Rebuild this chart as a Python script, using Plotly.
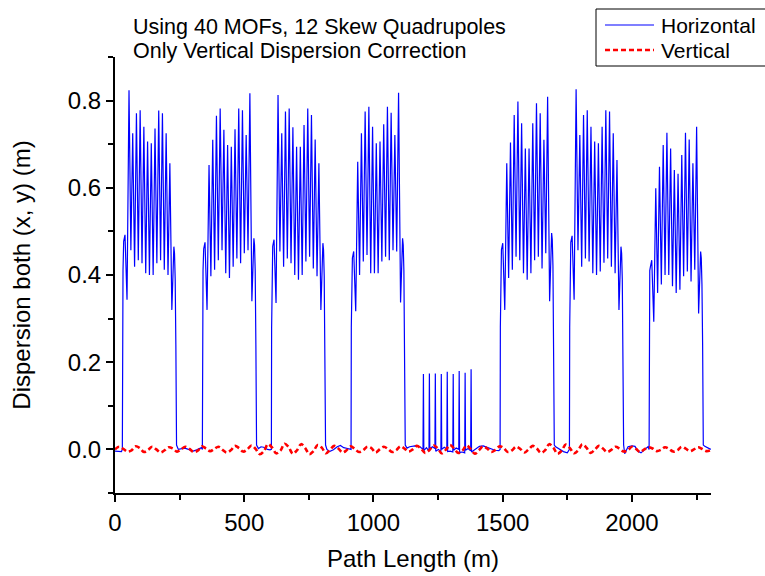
import plotly.graph_objects as go

# ---------------- data ----------------
CELL = 14.37  # m, spacing between successive horizontal-dispersion peaks in an arc

# position (m) of the first peak of each arc
ARC_PEAK1_S = [54.2, 363.8, 630.8, 939.1, 1515.8, 1784.1, 2092.3]

ARC_PEAKS = [
    [0.824, 0.725, 0.771, 0.778, 0.740, 0.706, 0.702, 0.736, 0.777, 0.771, 0.725, 0.656],
    [0.652, 0.710, 0.765, 0.782, 0.733, 0.698, 0.694, 0.734, 0.782, 0.778, 0.721, 0.817],
    [0.813, 0.725, 0.775, 0.782, 0.739, 0.694, 0.694, 0.744, 0.782, 0.767, 0.711, 0.656],
    [0.660, 0.725, 0.775, 0.786, 0.740, 0.702, 0.706, 0.746, 0.786, 0.772, 0.721, 0.818],
    [0.656, 0.704, 0.767, 0.798, 0.748, 0.690, 0.690, 0.748, 0.794, 0.771, 0.710, 0.809],
    [0.826, 0.721, 0.767, 0.778, 0.740, 0.706, 0.702, 0.740, 0.778, 0.775, 0.725, 0.664],
    [0.599, 0.648, 0.698, 0.726, 0.690, 0.641, 0.632, 0.675, 0.726, 0.711, 0.656, 0.740],
]
ARC_TROUGHS = [
    [0.457, 0.419, 0.434, 0.427, 0.404, 0.400, 0.400, 0.427, 0.434, 0.412, 0.400],
    [0.397, 0.412, 0.434, 0.457, 0.404, 0.393, 0.419, 0.438, 0.427, 0.450, 0.457],
    [0.454, 0.419, 0.438, 0.427, 0.400, 0.389, 0.400, 0.431, 0.442, 0.415, 0.397],
    [0.400, 0.431, 0.446, 0.404, 0.404, 0.404, 0.431, 0.442, 0.434, 0.457, 0.454],
    [0.393, 0.412, 0.442, 0.434, 0.404, 0.389, 0.404, 0.434, 0.442, 0.415, 0.450],
    [0.457, 0.419, 0.438, 0.431, 0.404, 0.400, 0.408, 0.428, 0.438, 0.419, 0.404],
    [0.359, 0.378, 0.400, 0.400, 0.374, 0.359, 0.366, 0.397, 0.408, 0.385, 0.412],
]
ARC_HUMP_IN = [0.492, 0.475, 0.481, 0.454, 0.473, 0.490, 0.434]
ARC_DIP_IN = [0.343, 0.320, 0.336, 0.317, 0.320, 0.343, 0.293]
ARC_DIP_OUT = [0.320, 0.340, 0.320, 0.337, 0.340, 0.320, 0.312]
ARC_HUMP_OUT = [0.465, 0.484, 0.473, 0.484, 0.496, 0.465, 0.454]

# small spikes in the middle straight section
SPIKE_S = [1193.3, 1216.4, 1239.4, 1262.5, 1285.5, 1308.6, 1331.7, 1354.7, 1377.8]
SPIKE_D = [0.173, 0.174, 0.174, 0.173, 0.178, 0.173, 0.180, 0.176, 0.184]
SPIKE_BASE_L = [0.000, -0.004, 0.002, -0.005, 0.001, -0.006, 0.000, -0.008, -0.003]
SPIKE_BASE_R = [-0.003, 0.001, -0.004, 0.000, -0.005, -0.002, -0.007, -0.002, -0.006]

# horizontal dispersion in the straight sections (between arcs)
STRAIGHT_S = [0, 15, 25,
              245, 270, 290, 303, 316, 335,
              555, 565, 575, 590, 600,
              820, 830, 845, 860, 872, 885, 900, 908,
              1130, 1140, 1160, 1180,
              1205, 1228, 1251, 1274, 1297, 1320, 1343, 1366,
              1395, 1410, 1425, 1440, 1455, 1470, 1485,
              1705, 1720, 1735, 1750,
              1972, 1985, 2000, 2012, 2022, 2035, 2050, 2062,
              2282, 2295, 2305]
STRAIGHT_D = [-0.004, -0.004, -0.005,
              0.000, 0.003, -0.001, -0.004, -0.001, 0.004,
              0.002, 0.006, 0.005, 0.000, -0.001,
              0.000, -0.005, -0.001, 0.006, 0.009, 0.004, 0.002, 0.000,
              0.003, 0.006, 0.008, 0.006,
              0.004, 0.006, 0.000, 0.005, -0.004, 0.003, -0.006, 0.002,
              0.000, 0.007, 0.008, 0.005, 0.002, -0.002, -0.003,
              0.006, 0.000, -0.005, -0.008,
              -0.010, 0.006, 0.008, 0.007, -0.004, -0.008, 0.000, 0.006,
              0.007, 0.003, 0.000]

# vertical dispersion, sampled every 16 m from 0 m
VERT_STEP = 16
VERT_D = [
    0.000, 0.006, 0.001, -0.005, -0.002, 0.007, 0.003, -0.006, -0.001, 0.006, 0.000, -0.007,
    -0.002, 0.005, 0.002, -0.005, 0.000, 0.006, 0.001, -0.006, -0.003, 0.007, 0.002, -0.004,
    0.001, 0.006, -0.001, -0.007, -0.002, 0.008, 0.003, -0.005, 0.000, 0.009, 0.001, -0.011,
    -0.004, 0.012, 0.004, -0.009, -0.003, 0.013, 0.005, -0.010, -0.002, 0.012, 0.003, -0.011,
    -0.004, 0.010, 0.004, -0.009,
    -0.001, 0.008, 0.002, -0.007, -0.002, 0.007, 0.001, -0.006, -0.002, 0.006, 0.003, -0.007,
    0.000, 0.006, 0.001, -0.006, -0.002, 0.007, 0.002, -0.005,
    0.000, 0.008, 0.002, -0.008, -0.002, 0.009, 0.003, -0.009, -0.001, 0.010, 0.002, -0.008,
    -0.003, 0.009, 0.001, -0.010, -0.002,
    0.007, 0.002, -0.006, -0.001, 0.007, 0.003, -0.006, -0.002, 0.006, 0.001, -0.007, 0.000,
    0.008, 0.002,
    -0.008, -0.002, 0.012, 0.004, -0.010, -0.003, 0.011, 0.003, -0.009, -0.002, 0.012, 0.004,
    -0.008, -0.001,
    0.008, 0.002, -0.006, -0.001, 0.006, 0.002, -0.005, -0.002, 0.006, 0.001, -0.006, 0.000,
    0.005, 0.002, -0.004, -0.001, 0.005, 0.001, -0.005, -0.002, 0.006, 0.002, -0.004, 0.000,
    0.005, 0.001, -0.004, -0.002,
]

SERIES_NAMES = ["Horizontal", "Vertical"]
SERIES_COLORS = ["#0000FF", "#FF0000"]
NOTE_LINES = ["Using 40 MOFs, 12 Skew Quadrupoles", "Only Vertical Dispersion Correction"]

X_TICK_STEP = 500
Y_TICK_STEP = 0.2

# ---------------- build the horizontal curve ----------------
pts = list(zip(STRAIGHT_S, STRAIGHT_D))
for i, p1 in enumerate(ARC_PEAK1_S):
    hin, din = ARC_HUMP_IN[i], ARC_DIP_IN[i]
    dout, hout = ARC_DIP_OUT[i], ARC_HUMP_OUT[i]
    pts += [(p1 - 25.8, 0.0), (p1 - 24.8, 0.28), (p1 - 23.2, 0.41),
            (p1 - 20.6, hin - 0.015), (p1 - 15.5, hin), (p1 - 7.7, din)]
    for k, pk in enumerate(ARC_PEAKS[i]):
        s = p1 + k * CELL
        pts.append((s, pk))
        if k < len(ARC_TROUGHS[i]):
            pts.append((s + CELL / 2, ARC_TROUGHS[i][k]))
    P = p1 + 11 * CELL
    pts += [(P + 7.7, dout), (P + 15.5, hout), (P + 18.0, hout - 0.015),
            (P + 20.6, hout - 0.075), (P + 23.2, 0.24), (P + 25.8, 0.01)]
for s, d, bl, br in zip(SPIKE_S, SPIKE_D, SPIKE_BASE_L, SPIKE_BASE_R):
    pts += [(s - 1.6, bl), (s, d), (s + 1.6, br)]
pts.sort(key=lambda p: p[0])
hx = [p[0] for p in pts]
hy = [p[1] for p in pts]

vx = [VERT_STEP * i for i in range(len(VERT_D))]

# ---------------- figure ----------------
FONT = "Liberation Sans, Arial, sans-serif"
W, H = 765, 576
ML, MR, MT, MB = 115, 54, 57, 83
PW, PH = W - ML - MR, H - MT - MB


def px_x(px):  # pixel -> paper x
    return (px - ML) / PW


def px_y(py):  # pixel -> paper y
    return (H - MB - py) / PH


LINE_STYLES = [dict(color=SERIES_COLORS[0], width=1.2),
               dict(color=SERIES_COLORS[1], width=2.6, dash="5px,3px",
                    shape="spline", smoothing=1.0)]

fig = go.Figure()
fig.add_trace(go.Scatter(x=hx, y=hy, mode="lines", name=SERIES_NAMES[0],
                         line=LINE_STYLES[0], showlegend=False))
fig.add_trace(go.Scatter(x=vx, y=VERT_D, mode="lines", name=SERIES_NAMES[1],
                         line=LINE_STYLES[1], showlegend=False))

axis_common = dict(showgrid=False, zeroline=False, showline=True, linecolor="black",
                   linewidth=2, ticks="outside", ticklen=7, tickwidth=2,
                   tickcolor="black", mirror=False,
                   tickfont=dict(family=FONT, size=24, color="black"))
fig.update_xaxes(range=[0, 2306], dtick=X_TICK_STEP, tick0=0,
                 minor=dict(dtick=250, ticklen=5, tickwidth=2, tickcolor="black",
                            ticks="outside", showgrid=False),
                 title=dict(text="Path Length (m)", font=dict(family=FONT, size=24, color="black"),
                            standoff=15),
                 **axis_common)
fig.update_yaxes(range=[-0.1, 0.9], dtick=Y_TICK_STEP, tick0=0, tickformat=".1f",
                 minor=dict(dtick=0.1, ticklen=5, tickwidth=2, tickcolor="black",
                            ticks="outside", showgrid=False),
                 title=dict(text="Dispersion both (x, y) (m)",
                            font=dict(family=FONT, size=24, color="black"), standoff=30),
                 **axis_common)

# note text (two lines)
for txt, py in zip(NOTE_LINES, [27, 51]):
    fig.add_annotation(text=txt, xref="paper", yref="paper",
                       x=px_x(131), y=px_y(py), xanchor="left", yanchor="middle",
                       showarrow=False, font=dict(family=FONT, size=21.5, color="black"))

# legend box drawn to match the reference
shapes = [dict(type="rect", xref="paper", yref="paper",
               x0=px_x(596), x1=px_x(768), y0=px_y(66), y1=px_y(9),
               line=dict(color="black", width=1), fillcolor="white", layer="above")]
for name, style, py in zip(SERIES_NAMES, LINE_STYLES, [25, 50]):
    shapes.append(dict(type="line", xref="paper", yref="paper",
                       x0=px_x(605), x1=px_x(654), y0=px_y(py), y1=px_y(py),
                       line=dict(color=style["color"], width=style["width"],
                                 dash=style.get("dash", "solid")), layer="above"))
    fig.add_annotation(text=name, xref="paper", yref="paper",
                       x=px_x(659), y=px_y(py + 1), xanchor="left", yanchor="middle",
                       showarrow=False, font=dict(family=FONT, size=21, color="black"))

fig.update_layout(
    width=W, height=H,
    margin=dict(l=ML, r=MR, t=MT, b=MB, autoexpand=False),
    paper_bgcolor="white", plot_bgcolor="white",
    font=dict(family=FONT, color="black"),
    showlegend=False,
    shapes=shapes,
)

fig.write_html("out.html")
